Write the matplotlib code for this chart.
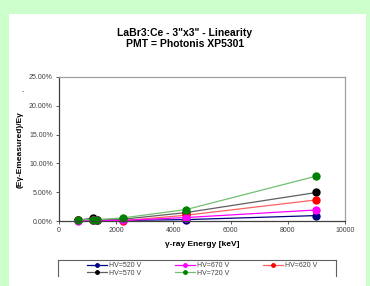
import matplotlib
matplotlib.use("Agg")
import matplotlib.pyplot as plt
from matplotlib.patches import Rectangle
from matplotlib.lines import Line2D
from matplotlib.ticker import FuncFormatter

plt.rcParams['font.family'] = ['Liberation Sans', 'DejaVu Sans']

energies = [662, 1173, 1332, 2223, 4438, 9000]
hv520 = [0.10, 0.10, 0.10, 0.10, 0.24, 0.94]
hv570 = [0.15, 0.50, 0.20, 0.30, 1.46, 4.95]
hv620 = [0.10, 0.20, 0.15, 0.05, 1.00, 3.66]
hv670 = [0.05, 0.10, 0.10, 0.10, 0.60, 1.92]
hv720 = [0.20, 0.24, 0.25, 0.53, 1.98, 7.80]

series = [
    ("HV=520 V", hv520, "#000080", "#000080"),
    ("HV=570 V", hv570, "#606060", "#000000"),
    ("HV=620 V", hv620, "#FF6060", "#FF0000"),
    ("HV=670 V", hv670, "#FF00FF", "#FF00FF"),
    ("HV=720 V", hv720, "#70C070", "#008000"),
]

W, H = 370, 286
fig = plt.figure(figsize=(W/100, H/100), dpi=100)
fig.patch.set_facecolor("#CCFFCC")
bg = Rectangle((9/W, 0), (366-9)/W, 1-14/H, transform=fig.transFigure,
               facecolor="white", edgecolor="none", zorder=-5)
fig.add_artist(bg)

ax = fig.add_axes([59/W, 1-221/H, (345-59)/W, (221-77)/H])
handles = {}
for name, vals, lc, mc in series:
    h, = ax.plot(energies, vals, color=lc, lw=0.9, marker='o', ms=5,
                 markerfacecolor=mc, markeredgecolor=mc, label=name, clip_on=False)
    handles[name] = h

ax.set_xlim(0, 10000)
ax.set_ylim(0, 25)
ax.set_xticks([0, 2000, 4000, 6000, 8000, 10000])
ax.set_yticks([0, 5, 10, 15, 20, 25])
ax.yaxis.set_major_formatter(FuncFormatter(lambda v, p: f"{v:.2f}%"))
ax.tick_params(labelsize=5, colors="#404040", length=2.5, width=0.6, pad=2)
for s in ["left", "bottom"]:
    ax.spines[s].set_color("#404040")
    ax.spines[s].set_linewidth(0.9)
for s in ["top", "right"]:
    ax.spines[s].set_color("#A0A0A0")
    ax.spines[s].set_linewidth(0.9)

fig.text(0.5, 1-38.5/H, "LaBr3:Ce - 3\"x3\" - Linearity\nPMT = Photonis XP5301",
         ha="center", va="center", fontsize=7.5, fontweight="bold", linespacing=1.05)
fig.text(202/W, 1-244/H, "γ-ray Energy [keV]", ha="center", va="center",
         fontsize=6, fontweight="bold")
fig.text(20/W, 1-150/H, "(Eγ-Emeasured)/Eγ", ha="center", va="center",
         fontsize=6, fontweight="bold", rotation=90)
fig.text(22/W, 1-90/H, ".", ha="center", va="center", fontsize=6)

# legend box (bottom edge cut off)
bx0, bx1, by0, by1 = 58/W, 336/W, 1-260/H, 1-276/H
for xs, ys in [([bx0, bx1], [by0, by0]), ([bx0, bx0], [by0, by1]), ([bx1, bx1], [by0, by1])]:
    fig.add_artist(Line2D(xs, ys, transform=fig.transFigure, color="#606060", lw=0.8))

order = ["HV=520 V", "HV=570 V", "HV=670 V", "HV=720 V", "HV=620 V"]
leg_handles = []
for name in order:
    h = handles[name]
    leg_handles.append(Line2D([], [], color=h.get_color(), lw=0.9, marker='o', ms=2.5,
                              markerfacecolor=h.get_markerfacecolor(),
                              markeredgecolor=h.get_markeredgecolor()))
leg = fig.legend(leg_handles, order, ncol=3, frameon=False, fontsize=5,
                 loc="upper left", bbox_to_anchor=(84/W, 1-259/H),
                 handlelength=2.8, handletextpad=0.3, columnspacing=4.9,
                 labelspacing=0.05, borderpad=0)
for t in leg.get_texts():
    t.set_color("#404040")

fig.savefig("out.png", dpi=100, facecolor=fig.get_facecolor())
